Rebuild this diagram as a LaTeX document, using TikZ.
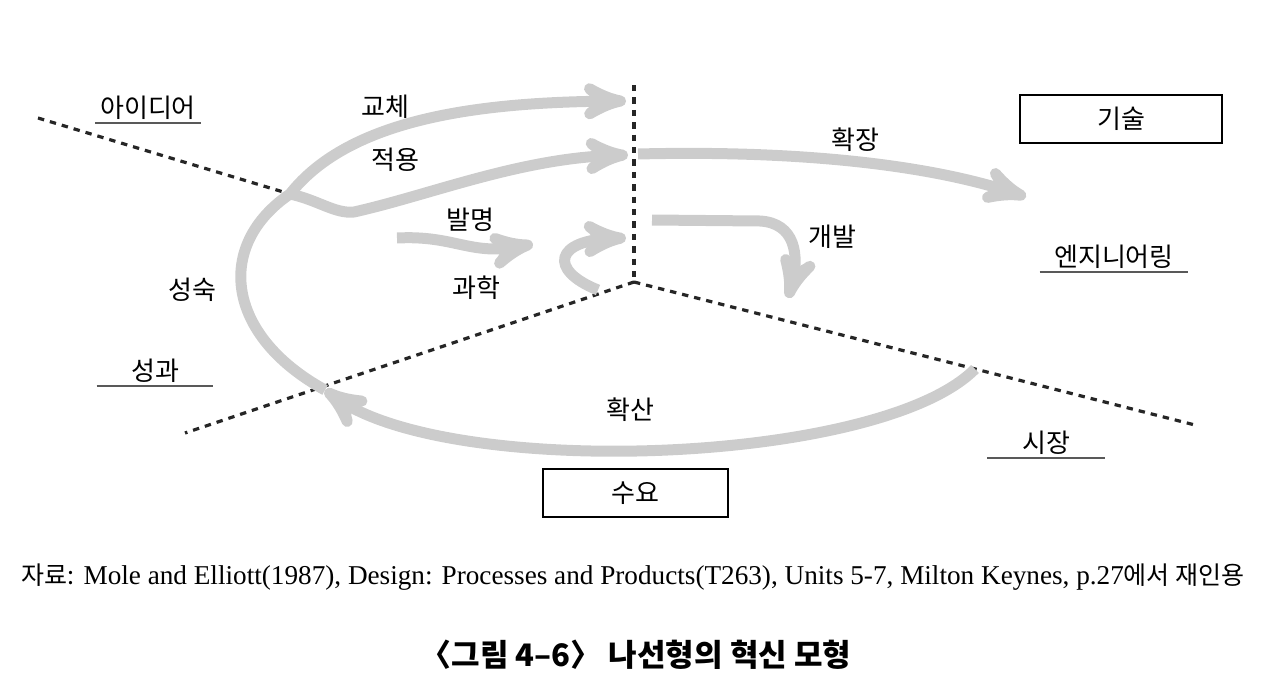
\documentclass[tikz,border=0pt]{standalone}
\usepackage{fontspec}
\setmainfont{Liberation Serif}
\newfontfamily\kr{Noto Sans CJK KR}
\usetikzlibrary{arrows}
\usetikzlibrary{calc}

\begin{document}
\begin{tikzpicture}[>=stealth',x=0.5pt,y=-0.5pt,
      word node/.style={font=\kr\fontsize{13}{15}\selectfont},
      box node/.style={word node,draw,line width=1pt,minimum width=#1,minimum height=24pt},
      under node/.style={word node,minimum width=#1,inner sep=1.5pt,
        append after command={(\tikzlastnode.south west) edge[draw=black!65,line width=.8pt] (\tikzlastnode.south east)}},
      zone line/.style={dash pattern=on 3.2pt off 3pt,line width=1.6pt,black!85},
      spiral arrow/.style={->,line width=5.5pt,black!20}]
    \useasboundingbox (0,0) rectangle (1268,696);
    % dashed borders of the four fields
    \coordinate (hub) at (634,282);
    \coordinate (top) at (634,85);
    \coordinate (ideaend) at (38,118);
    \coordinate (perfend) at (185,433);
    \coordinate (mktend) at (1195,425);
    \coordinate (ideax) at (290,194);
    \coordinate (perfx) at (325,390);
    \coordinate (mktx) at (975,369);
    \path[zone line] (ideaend) edge (ideax)
         (top) edge (hub)
         (hub) edge (perfend)
               edge (mktend);
    % the spiral and its branches
    \coordinate (repltip) at (626,101);
    \coordinate (applytip) at (628,155);
    \coordinate (exttail) at (638,154);
    \coordinate (exttip) at (1026,197);
    \coordinate (invtail) at (397,238);
    \coordinate (invtip) at (533,244);
    \coordinate (hooktail) at (598,290);
    \coordinate (hooktip) at (626,238);
    \coordinate (devtail) at (652,220);
    \coordinate (devtip) at (788,298);
    \draw[spiral arrow] (mktx) .. controls (880,465) and (450,480) .. (perfx);
    \draw[spiral arrow] (perfx) .. controls (225,335) and (215,245) .. (ideax)
         .. controls (350,118) and (480,102) .. (repltip);
    \draw[spiral arrow] (ideax) .. controls (318,200) and (335,214) .. (354,212)
         .. controls (430,195) and (520,158) .. (applytip);
    \draw[spiral arrow] (exttail) .. controls (800,150) and (930,165) .. (exttip);
    \draw[spiral arrow] (invtail) .. controls (455,235) and (470,256) .. (invtip);
    \draw[spiral arrow] (hooktail) .. controls (548,270) and (555,240) .. (hooktip);
    \draw[spiral arrow] (devtail) -- (760,221) .. controls (795,223) and (800,255) .. (devtip);
    % labels
    \node[under node=52.5pt] (idea) at (148,108) {아이디어};
    \node[under node=74pt] (eng) at (1114,257) {엔지니어링};
    \node[under node=58pt] (perf) at (155,371) {성과};
    \node[under node=58.5pt] (mkt) at (1046,443) {시장};
    \node[box node=101pt] (tech) at (1121,119) {기술};
    \node[box node=92.5pt] (demand) at (635,493) {수요};
    \node[word node] (repl) at (385,107) {교체};
    \node[word node] (apply) at (395,160) {적용};
    \node[word node] (inv) at (470,220) {발명};
    \node[word node] (sci) at (476,288) {과학};
    \node[word node] (mature) at (192,290) {성숙};
    \node[word node] (ext) at (855,140) {확장};
    \node[word node] (dev) at (832,237) {개발};
    \node[word node] (diff) at (630,410) {확산};
    % captions
    \node[font=\fontsize{13.6}{15}\selectfont] (source) at (633,577)
         {{\kr\fontsize{12.5}{15}\selectfont 자료:} Mole and Elliott(1987), Design: Processes and Products(T263), Units 5-7, Milton Keynes, p.27{\kr\fontsize{12.5}{15}\selectfont 에서 재인용}};
    \node[font=\kr\bfseries\fontsize{15.5}{17}\selectfont] (title) at (636,655) {〈그림 4–6〉 나선형의 혁신 모형};
\end{tikzpicture}
\end{document}
